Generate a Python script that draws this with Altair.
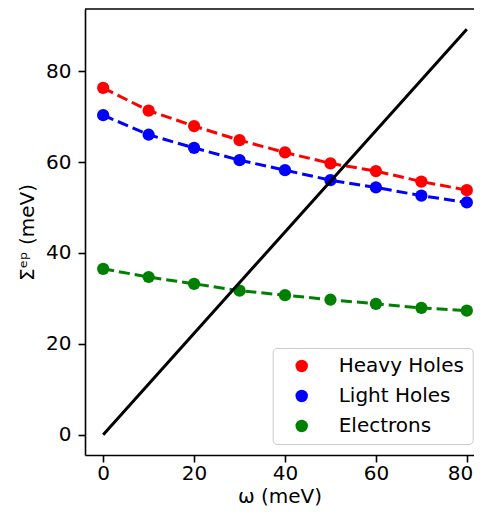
import altair as alt
import pandas as pd

omega = [0, 10, 20, 30, 40, 50, 60, 70, 80]
heavy_holes = [76.3, 71.3, 67.9, 64.8, 62.1, 59.7, 58.0, 55.7, 53.8]
light_holes = [70.3, 66.0, 63.1, 60.4, 58.2, 56.0, 54.4, 52.6, 51.1]
electrons = [36.5, 34.7, 33.2, 31.7, 30.7, 29.7, 28.8, 27.9, 27.3]
series_names = ["Heavy Holes", "Light Holes", "Electrons"]
series_colors = ["#ff0000", "#0000ff", "#008000"]
diag_x = [0, 80]
diag_y = [0, 89.2]
x_ticks = [0, 20, 40, 60, 80]
y_ticks = [0, 20, 40, 60, 80]

rows = []
for name, vals in zip(series_names, [heavy_holes, light_holes, electrons]):
    for w, v in zip(omega, vals):
        rows.append({"omega": w, "sigma": v, "series": name})
df = pd.DataFrame(rows)
diag = pd.DataFrame({"omega": diag_x, "sigma": diag_y})

W, H = 389, 446
xscale = alt.Scale(domain=[-4, 81.58], nice=False, zero=False)
yscale = alt.Scale(domain=[-4.46, 93.66], nice=False, zero=False)
xaxis = alt.Axis(
    values=x_ticks,
    title="ω (meV)",
    labelPadding=1,
    titlePadding=3,
    labelAlign=alt.condition("datum.value == 80", alt.value("right"), alt.value("center")),
    labelOffset=alt.condition("datum.value == 80", alt.value(6), alt.value(0)),
)
yaxis = alt.Axis(values=y_ticks, title="Σᵉᵖ (meV)", labelPadding=7, titlePadding=8)

lines = alt.Chart(df).mark_line(strokeDash=[11, 5], strokeWidth=3).encode(
    x=alt.X("omega:Q", scale=xscale, axis=xaxis),
    y=alt.Y("sigma:Q", scale=yscale, axis=yaxis),
    color=alt.Color("series:N", scale=alt.Scale(domain=series_names, range=series_colors), legend=None),
    detail="series:N",
)

points = alt.Chart(df).mark_circle(size=150, opacity=1).encode(
    x=alt.X("omega:Q", scale=xscale),
    y=alt.Y("sigma:Q", scale=yscale),
    color=alt.Color(
        "series:N",
        scale=alt.Scale(domain=series_names, range=series_colors),
        legend=alt.Legend(
            title=None,
            orient="none",
            legendX=187.7,
            legendY=339,
            padding=8,
            symbolOffset=11,
            labelOffset=27,
            rowPadding=10,
            symbolSize=155,
            symbolType="circle",
            symbolStrokeWidth=0,
            symbolOpacity=1,
            labelFontSize=20,
            labelFont="DejaVu Sans",
            labelColor="black",
            labelLimit=400,
            labelExpr="datum.label + ' '",
            strokeColor="#cccccc",
            fillColor="white",
            cornerRadius=4,
        ),
    ),
)

black = alt.Chart(diag).mark_line(color="black", strokeWidth=3).encode(
    x=alt.X("omega:Q", scale=xscale),
    y=alt.Y("sigma:Q", scale=yscale),
)

top_spine = alt.Chart(pd.DataFrame({"a": [0]})).mark_rule(color="black", strokeWidth=1.6).encode(
    x=alt.value(0), x2=alt.value(W), y=alt.value(0)
)

chart = (
    alt.layer(lines, points, black, top_spine)
    .resolve_scale(color="independent")
    .properties(
        width=W,
        height=H,
        autosize=alt.AutoSizeParams(type="none"),
        padding={"left": 77, "top": 1, "right": 0, "bottom": 54},
    )
    .configure_view(stroke=None)
    .configure_axis(
        labelFont="DejaVu Sans",
        titleFont="DejaVu Sans",
        labelFontSize=20,
        titleFontSize=20,
        titleFontWeight="normal",
        labelColor="black",
        titleColor="black",
        domainColor="black",
        tickColor="black",
        domainWidth=1.6,
        tickWidth=1.6,
        tickSize=7,
        grid=False,
    )
)

chart.save("out.html", embed_options={"renderer": "svg", "actions": False})
